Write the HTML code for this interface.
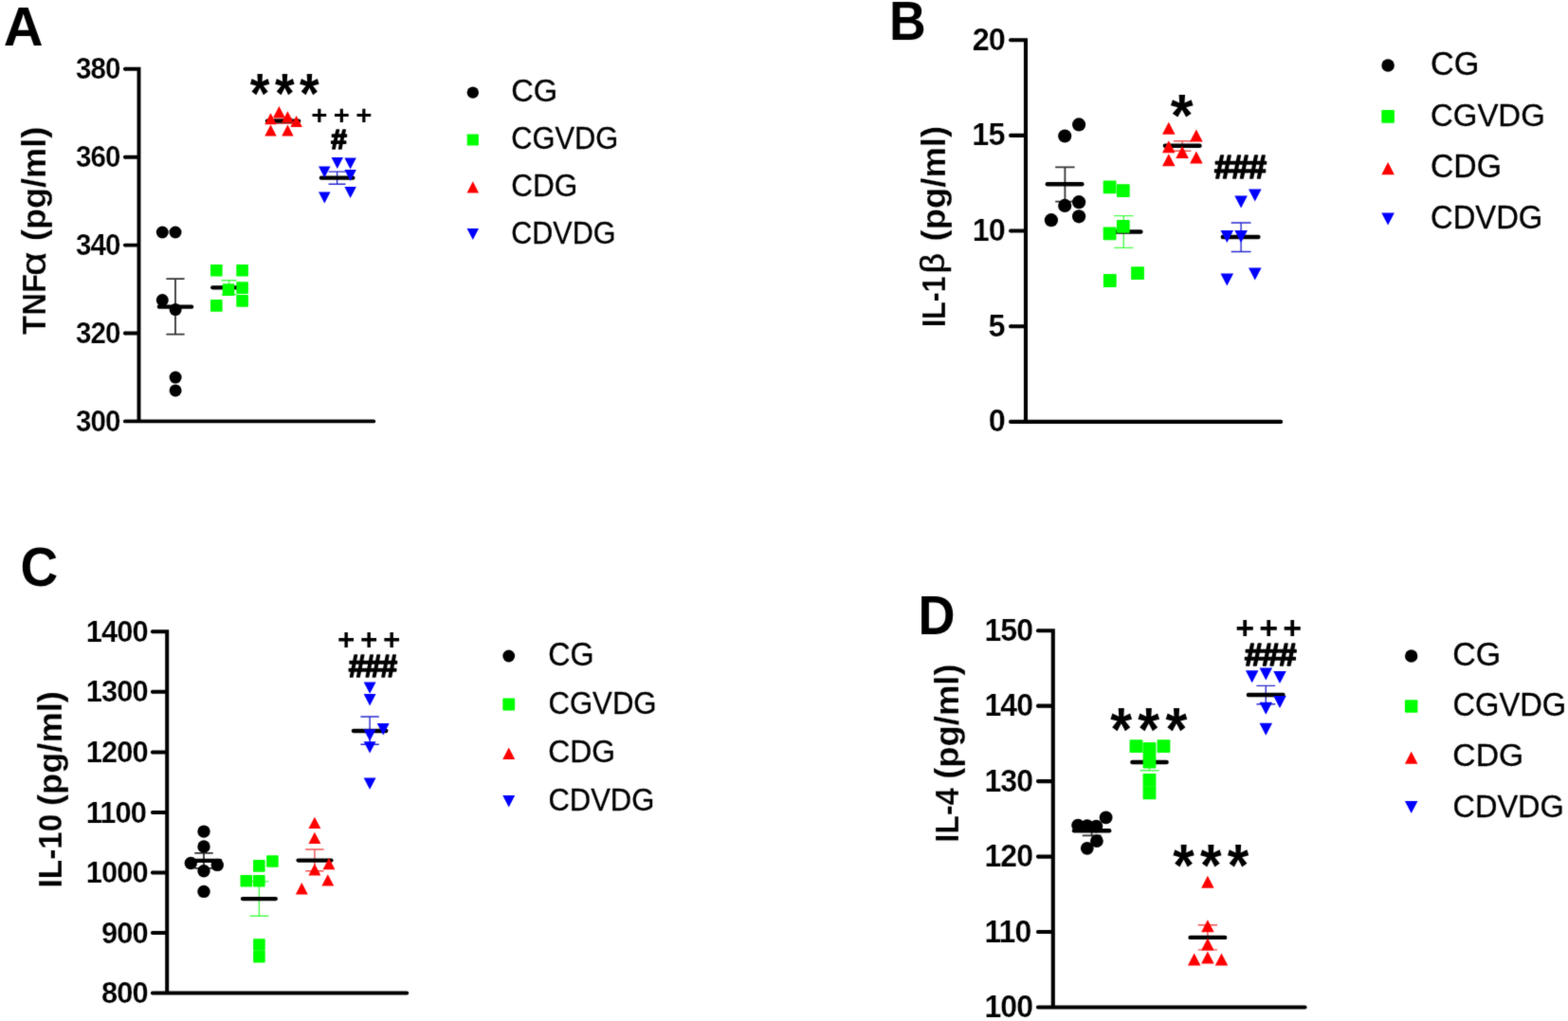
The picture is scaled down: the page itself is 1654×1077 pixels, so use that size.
<!DOCTYPE html>
<html lang="en"><head><meta charset="utf-8"><title>Cytokine levels</title>
<style>
html,body{margin:0;padding:0;background:#fff;}
body{width:1654px;height:1077px;overflow:hidden;}
svg{display:block;font-family:"Liberation Sans",sans-serif;fill:#000;}
</style></head><body>
<svg width="1654" height="1077" viewBox="0 0 1654 1077">
<defs><filter id="soft" x="0" y="0" width="1654" height="1077" filterUnits="userSpaceOnUse" color-interpolation-filters="sRGB"><feConvolveMatrix order="3" kernelMatrix="1 3 1 3 24 3 1 3 1" divisor="40" edgeMode="duplicate" preserveAlpha="false"/></filter></defs>
<rect width="1654" height="1077" fill="#fff"/>
<g style="filter:url(#soft)">
<rect width="1654" height="1077" fill="#fff"/>
<g id="panelA">
<text transform="translate(3.75,47.8) scale(1.0029,1)" font-size="57.75" font-weight="bold">A</text>
<circle cx="131.85" cy="72.8" r="1.95" fill="#000000"/>
<circle cx="131.85" cy="165.7" r="1.95" fill="#000000"/>
<circle cx="131.85" cy="258.6" r="1.95" fill="#000000"/>
<circle cx="131.85" cy="351.5" r="1.95" fill="#000000"/>
<path d="M146.5,70.85V444.4M131.85,72.8H146.5M131.85,165.7H146.5M131.85,258.6H146.5M131.85,351.5H146.5" stroke="#000" stroke-width="3.9" fill="none" stroke-linecap="butt"/>
<line x1="131.85" y1="444.4" x2="394.25" y2="444.4" stroke="#000" stroke-width="3.9" stroke-linecap="round"/>
<text transform="translate(79.94,83.21) scale(0.9355,1)" font-size="31.55" font-weight="bold" letter-spacing="-0.95" stroke="#fff" stroke-width="0.2">380</text>
<text transform="translate(79.94,176.11) scale(0.9355,1)" font-size="31.55" font-weight="bold" letter-spacing="-0.95" stroke="#fff" stroke-width="0.2">360</text>
<text transform="translate(79.94,269.01) scale(0.9355,1)" font-size="31.55" font-weight="bold" letter-spacing="-0.95" stroke="#fff" stroke-width="0.2">340</text>
<text transform="translate(79.94,361.91) scale(0.9355,1)" font-size="31.55" font-weight="bold" letter-spacing="-0.95" stroke="#fff" stroke-width="0.2">320</text>
<text transform="translate(79.94,454.81) scale(0.9355,1)" font-size="31.55" font-weight="bold" letter-spacing="-0.95" stroke="#fff" stroke-width="0.2">300</text>
<text transform="translate(47.8,352.6) rotate(-90)" font-size="35.29" font-weight="bold" stroke="#fff" stroke-width="0.2"><tspan x="-0.33" y="0" textLength="64.13" lengthAdjust="spacingAndGlyphs">TNF</tspan><tspan x="61.92" y="-0.11" font-size="36.35" font-weight="normal" stroke="#000" stroke-width="0.5" textLength="24.95" lengthAdjust="spacingAndGlyphs">α</tspan><tspan x="88.46" y="0" textLength="130.45" lengthAdjust="spacingAndGlyphs"> (pg/ml)</tspan></text>
<path d="M175.4,294.2H194.6M175.4,352.6H194.6M185,294.2V352.6" stroke="#333333" stroke-width="1.8" fill="none"/>
<line x1="167.8" y1="323.7" x2="202.2" y2="323.7" stroke="#000" stroke-width="4.2" stroke-linecap="round"/>
<circle cx="171.3" cy="245" r="6.5" fill="#000000"/>
<circle cx="185" cy="245" r="6.5" fill="#000000"/>
<circle cx="171.3" cy="316.6" r="6.5" fill="#000000"/>
<circle cx="185.1" cy="326.6" r="6.5" fill="#000000"/>
<circle cx="185.1" cy="398.1" r="6.5" fill="#000000"/>
<circle cx="185.1" cy="411.9" r="6.5" fill="#000000"/>
<path d="M233.6,295.8H249.6M233.6,310.8H249.6M241.6,295.8V310.8" stroke="#48ff48" stroke-width="1.4" fill="none"/>
<line x1="224.2" y1="303.3" x2="259" y2="303.3" stroke="#000" stroke-width="4.2" stroke-linecap="round"/>
<rect x="222" y="279" width="12.6" height="12.6" rx="0.8" fill="#00ff00"/>
<rect x="249.3" y="279" width="12.6" height="12.6" rx="0.8" fill="#00ff00"/>
<rect x="234.7" y="299.3" width="12.6" height="12.6" rx="0.8" fill="#00ff00"/>
<rect x="249.3" y="297.3" width="12.6" height="12.6" rx="0.8" fill="#00ff00"/>
<rect x="249.3" y="311.1" width="12.6" height="12.6" rx="0.8" fill="#00ff00"/>
<rect x="222" y="316.1" width="12.6" height="12.6" rx="0.8" fill="#00ff00"/>
<path d="M289,125H308M289,130.4H308M298.5,125V130.4" stroke="#f05050" stroke-width="1.4" fill="none"/>
<line x1="281.8" y1="127.7" x2="315.2" y2="127.7" stroke="#000" stroke-width="4.2" stroke-linecap="round"/>
<polygon points="285.5,119.3 291.75,131.3 279.25,131.3" fill="#ff0000"/>
<polygon points="294.4,112.1 300.65,124.1 288.15,124.1" fill="#ff0000"/>
<polygon points="303.4,117.3 309.65,129.3 297.15,129.3" fill="#ff0000"/>
<polygon points="312.6,122 318.85,134 306.35,134" fill="#ff0000"/>
<polygon points="285.5,131.6 291.75,143.6 279.25,143.6" fill="#ff0000"/>
<polygon points="303.4,131.6 309.65,143.6 297.15,143.6" fill="#ff0000"/>
<path d="M346.6,181.1H364.6M346.6,194.2H364.6M355.6,181.1V194.2" stroke="#2a2ad0" stroke-width="1.4" fill="none"/>
<line x1="338.8" y1="187.7" x2="372.4" y2="187.7" stroke="#000" stroke-width="4.2" stroke-linecap="round"/>
<polygon points="349.55,166.1 362.05,166.1 355.8,178.1" fill="#0000ff"/>
<polygon points="363.35,166.6 375.85,166.6 369.6,178.6" fill="#0000ff"/>
<polygon points="336.05,175.6 348.55,175.6 342.3,187.6" fill="#0000ff"/>
<polygon points="363.35,179 375.85,179 369.6,191" fill="#0000ff"/>
<polygon points="363.35,197.1 375.85,197.1 369.6,209.1" fill="#0000ff"/>
<polygon points="336.05,202.4 348.55,202.4 342.3,214.4" fill="#0000ff"/>
<text transform="translate(263.67,118.6) scale(0.8981,1)" font-size="59.06" font-weight="bold" letter-spacing="6.2">***</text>
<text transform="translate(328.35,131.27) scale(1.0491,1)" font-size="28.04" font-weight="bold" letter-spacing="6.03">+++</text>
<text transform="translate(349.18,156.8) scale(1.0411,1)" font-size="28.68" font-weight="bold" stroke="#000" stroke-width="1.6" stroke-linejoin="round">#</text>
<circle cx="498.8" cy="97.6" r="6.2" fill="#000000"/>
<rect x="492.7" y="141.4" width="12.2" height="12.2" rx="0.8" fill="#00ff00"/>
<polygon points="498.8,191.3 505.05,203.5 492.55,203.5" fill="#ff0000"/>
<polygon points="492.55,240.9 505.05,240.9 498.8,253.1" fill="#0000ff"/>
<text transform="translate(539.22,106.82) scale(1.0045,1)" font-size="32.51" font-weight="normal" stroke="#000" stroke-width="0.3" stroke-linejoin="round">CG</text>
<text transform="translate(539.31,156.82) scale(0.9482,1)" font-size="32.51" font-weight="normal" stroke="#000" stroke-width="0.3" stroke-linejoin="round">CGVDG</text>
<text transform="translate(539.27,206.82) scale(0.9694,1)" font-size="32.51" font-weight="normal" stroke="#000" stroke-width="0.3" stroke-linejoin="round">CDG</text>
<text transform="translate(539.32,256.82) scale(0.9383,1)" font-size="32.51" font-weight="normal" stroke="#000" stroke-width="0.3" stroke-linejoin="round">CDVDG</text>
</g>
<g id="panelB">
<text transform="translate(938.08,42.4) scale(0.9307,1)" font-size="57.6" font-weight="bold">B</text>
<circle cx="1066.05" cy="42.2" r="2.05" fill="#000000"/>
<circle cx="1066.05" cy="142.88" r="2.05" fill="#000000"/>
<circle cx="1066.05" cy="243.55" r="2.05" fill="#000000"/>
<circle cx="1066.05" cy="344.22" r="2.05" fill="#000000"/>
<path d="M1082,40.15V444.9M1066.05,42.2H1082M1066.05,142.88H1082M1066.05,243.55H1082M1066.05,344.22H1082" stroke="#000" stroke-width="4.1" fill="none" stroke-linecap="butt"/>
<line x1="1066.05" y1="444.9" x2="1351.15" y2="444.9" stroke="#000" stroke-width="4.1" stroke-linecap="round"/>
<text transform="translate(1025.76,52.78) scale(0.9759,1)" font-size="33.24" font-weight="bold" letter-spacing="-1" stroke="#fff" stroke-width="0.2">20</text>
<text transform="translate(1025.36,153.46) scale(0.9759,1)" font-size="33.24" font-weight="bold" letter-spacing="-1" stroke="#fff" stroke-width="0.2">15</text>
<text transform="translate(1025.76,254.13) scale(0.9759,1)" font-size="33.24" font-weight="bold" letter-spacing="-1" stroke="#fff" stroke-width="0.2">10</text>
<text transform="translate(1042.39,354.81) scale(0.9759,1)" font-size="33.24" font-weight="bold" letter-spacing="-1" stroke="#fff" stroke-width="0.2">5</text>
<text transform="translate(1042.79,455.48) scale(0.9759,1)" font-size="33.24" font-weight="bold" letter-spacing="-1" stroke="#fff" stroke-width="0.2">0</text>
<text transform="translate(996.6,343) rotate(-90)" font-size="35.29" font-weight="bold" stroke="#fff" stroke-width="0.2"><tspan x="-2.03" y="0" textLength="53.57" lengthAdjust="spacingAndGlyphs">IL-1</tspan><tspan x="54.53" y="-0.78" font-size="35.82" font-weight="normal" stroke="#000" stroke-width="0.5" textLength="21.52" lengthAdjust="spacingAndGlyphs">β</tspan><tspan x="78.45" y="0" textLength="131.68" lengthAdjust="spacingAndGlyphs"> (pg/ml)</tspan></text>
<path d="M1113.2,176.3H1133.6M1113.2,212.6H1133.6M1123.4,176.3V212.6" stroke="#333333" stroke-width="1.8" fill="none"/>
<line x1="1104.8" y1="194.2" x2="1141.4" y2="194.2" stroke="#000" stroke-width="4.4" stroke-linecap="round"/>
<circle cx="1138.1" cy="131.4" r="7.1" fill="#000000"/>
<circle cx="1123.2" cy="143.5" r="7.1" fill="#000000"/>
<circle cx="1138.1" cy="213.2" r="7.1" fill="#000000"/>
<circle cx="1123.2" cy="216.9" r="7.1" fill="#000000"/>
<circle cx="1138.1" cy="228.3" r="7.1" fill="#000000"/>
<circle cx="1108.9" cy="232.2" r="7.1" fill="#000000"/>
<path d="M1175.1,227.6H1195.5M1175.1,261.4H1195.5M1185.3,227.6V261.4" stroke="#48ff48" stroke-width="1.4" fill="none"/>
<line x1="1166.2" y1="244.5" x2="1203.4" y2="244.5" stroke="#000" stroke-width="4.4" stroke-linecap="round"/>
<rect x="1163.7" y="190.5" width="13.8" height="13.8" rx="0.8" fill="#00ff00"/>
<rect x="1177.9" y="194.2" width="13.8" height="13.8" rx="0.8" fill="#00ff00"/>
<rect x="1177.9" y="231.9" width="13.8" height="13.8" rx="0.8" fill="#00ff00"/>
<rect x="1163.7" y="239.5" width="13.8" height="13.8" rx="0.8" fill="#00ff00"/>
<rect x="1163.9" y="289.1" width="13.8" height="13.8" rx="0.8" fill="#00ff00"/>
<rect x="1193.1" y="281.3" width="13.8" height="13.8" rx="0.8" fill="#00ff00"/>
<path d="M1237.9,148.7H1256.3M1237.9,159.2H1256.3M1247.1,148.7V159.2" stroke="#f05050" stroke-width="1.4" fill="none"/>
<line x1="1228.9" y1="153.8" x2="1265.5" y2="153.8" stroke="#000" stroke-width="4.4" stroke-linecap="round"/>
<polygon points="1232.8,128.7 1239.6,141.7 1226,141.7" fill="#ff0000"/>
<polygon points="1261.9,136.6 1268.7,149.6 1255.1,149.6" fill="#ff0000"/>
<polygon points="1232.8,148.3 1239.6,161.3 1226,161.3" fill="#ff0000"/>
<polygon points="1247.1,154.1 1253.9,167.1 1240.3,167.1" fill="#ff0000"/>
<polygon points="1261.9,159.4 1268.7,172.4 1255.1,172.4" fill="#ff0000"/>
<polygon points="1232.8,162.3 1239.6,175.3 1226,175.3" fill="#ff0000"/>
<path d="M1298.7,235H1319.5M1298.7,265.5H1319.5M1309.1,235V265.5" stroke="#2a2ad0" stroke-width="1.4" fill="none"/>
<line x1="1289.8" y1="250" x2="1327.4" y2="250" stroke="#000" stroke-width="4.4" stroke-linecap="round"/>
<polygon points="1317,199.5 1330.6,199.5 1323.8,212.5" fill="#0000ff"/>
<polygon points="1302.3,206.5 1315.9,206.5 1309.1,219.5" fill="#0000ff"/>
<polygon points="1287.5,242.9 1301.1,242.9 1294.3,255.9" fill="#0000ff"/>
<polygon points="1302.3,242.9 1315.9,242.9 1309.1,255.9" fill="#0000ff"/>
<polygon points="1317,282.6 1330.6,282.6 1323.8,295.6" fill="#0000ff"/>
<polygon points="1287.5,288.5 1301.1,288.5 1294.3,301.5" fill="#0000ff"/>
<text transform="translate(1234.65,142.94) scale(0.9675,1)" font-size="63.62" font-weight="bold">*</text>
<text transform="translate(1281.1,188.3) scale(0.9926,1)" font-size="34.41" font-weight="bold" letter-spacing="-1.03" stroke="#000" stroke-width="1.6" stroke-linejoin="round">###</text>
<circle cx="1464.1" cy="69" r="6.8" fill="#000000"/>
<rect x="1457.3" y="116.1" width="13.6" height="13.6" rx="0.8" fill="#00ff00"/>
<polygon points="1464.1,171 1470.9,184.2 1457.3,184.2" fill="#ff0000"/>
<polygon points="1457.3,224.4 1470.9,224.4 1464.1,237.6" fill="#0000ff"/>
<text transform="translate(1508.93,79.3) scale(0.9873,1)" font-size="34.77" font-weight="normal" stroke="#000" stroke-width="0.3" stroke-linejoin="round">CG</text>
<text transform="translate(1509,132.61) scale(0.9793,1)" font-size="33.64" font-weight="normal" stroke="#000" stroke-width="0.3" stroke-linejoin="round">CGVDG</text>
<text transform="translate(1508.96,187.31) scale(0.9882,1)" font-size="34.2" font-weight="normal" stroke="#000" stroke-width="0.3" stroke-linejoin="round">CDG</text>
<text transform="translate(1509.01,240.61) scale(0.9541,1)" font-size="34.35" font-weight="normal" stroke="#000" stroke-width="0.3" stroke-linejoin="round">CDVDG</text>
</g>
<g id="panelC">
<text transform="translate(21.5,618.33) scale(0.9625,1)" font-size="57.1" font-weight="bold">C</text>
<circle cx="160.9" cy="666.3" r="2" fill="#000000"/>
<circle cx="160.9" cy="729.85" r="2" fill="#000000"/>
<circle cx="160.9" cy="793.4" r="2" fill="#000000"/>
<circle cx="160.9" cy="856.95" r="2" fill="#000000"/>
<circle cx="160.9" cy="920.5" r="2" fill="#000000"/>
<circle cx="160.9" cy="984.05" r="2" fill="#000000"/>
<path d="M176.2,664.3V1047.6M160.9,666.3H176.2M160.9,729.85H176.2M160.9,793.4H176.2M160.9,856.95H176.2M160.9,920.5H176.2M160.9,984.05H176.2" stroke="#000" stroke-width="4" fill="none" stroke-linecap="butt"/>
<line x1="160.9" y1="1047.6" x2="429.2" y2="1047.6" stroke="#000" stroke-width="4" stroke-linecap="round"/>
<text transform="translate(90.82,676.9) scale(0.9596,1)" font-size="32.11" font-weight="bold" letter-spacing="-0.96" stroke="#fff" stroke-width="0.2">1400</text>
<text transform="translate(90.82,740.45) scale(0.9596,1)" font-size="32.11" font-weight="bold" letter-spacing="-0.96" stroke="#fff" stroke-width="0.2">1300</text>
<text transform="translate(90.82,804) scale(0.9596,1)" font-size="32.11" font-weight="bold" letter-spacing="-0.96" stroke="#fff" stroke-width="0.2">1200</text>
<text transform="translate(90.82,867.55) scale(0.9596,1)" font-size="32.11" font-weight="bold" letter-spacing="-0.96" stroke="#fff" stroke-width="0.2">1100</text>
<text transform="translate(90.82,931.1) scale(0.9596,1)" font-size="32.11" font-weight="bold" letter-spacing="-0.96" stroke="#fff" stroke-width="0.2">1000</text>
<text transform="translate(107,994.65) scale(0.9596,1)" font-size="32.11" font-weight="bold" letter-spacing="-0.96" stroke="#fff" stroke-width="0.2">900</text>
<text transform="translate(107,1058.2) scale(0.9596,1)" font-size="32.11" font-weight="bold" letter-spacing="-0.96" stroke="#fff" stroke-width="0.2">800</text>
<text transform="translate(64.7,934.2) rotate(-90)" font-size="35.29" font-weight="bold" stroke="#fff" stroke-width="0.2"><tspan x="-2.25" y="0" textLength="77.73" lengthAdjust="spacingAndGlyphs">IL-10</tspan><tspan x="74.12" y="0" textLength="130.9" lengthAdjust="spacingAndGlyphs"> (pg/ml)</tspan></text>
<path d="M205.3,899.8H224.7M205.3,915.8H224.7M215,899.8V915.8" stroke="#333333" stroke-width="1.8" fill="none"/>
<line x1="198.05" y1="907.8" x2="232.15" y2="907.8" stroke="#000" stroke-width="4.3" stroke-linecap="round"/>
<circle cx="215" cy="877.1" r="6.7" fill="#000000"/>
<circle cx="215" cy="893" r="6.7" fill="#000000"/>
<circle cx="201.3" cy="910.5" r="6.7" fill="#000000"/>
<circle cx="229.3" cy="912.4" r="6.7" fill="#000000"/>
<circle cx="215" cy="918.7" r="6.7" fill="#000000"/>
<circle cx="215" cy="940.4" r="6.7" fill="#000000"/>
<path d="M263.5,929.9H283.3M263.5,966.3H283.3M273.4,929.9V966.3" stroke="#48ff48" stroke-width="1.4" fill="none"/>
<line x1="255.95" y1="948.1" x2="290.85" y2="948.1" stroke="#000" stroke-width="4.3" stroke-linecap="round"/>
<rect x="281.1" y="902.2" width="12.6" height="12.6" rx="0.8" fill="#00ff00"/>
<rect x="267" y="907.1" width="12.6" height="12.6" rx="0.8" fill="#00ff00"/>
<rect x="253.5" y="923" width="12.6" height="12.6" rx="0.8" fill="#00ff00"/>
<rect x="267" y="923" width="12.6" height="12.6" rx="0.8" fill="#00ff00"/>
<rect x="267.1" y="990.2" width="12.6" height="12.6" rx="0.8" fill="#00ff00"/>
<rect x="267.1" y="1002.8" width="12.6" height="12.6" rx="0.8" fill="#00ff00"/>
<path d="M322.2,896H341.6M322.2,918.7H341.6M331.9,896V918.7" stroke="#f05050" stroke-width="1.4" fill="none"/>
<line x1="314.55" y1="907.6" x2="349.45" y2="907.6" stroke="#000" stroke-width="4.3" stroke-linecap="round"/>
<polygon points="331.9,861.7 338.35,874.1 325.45,874.1" fill="#ff0000"/>
<polygon points="331.9,877.7 338.35,890.1 325.45,890.1" fill="#ff0000"/>
<polygon points="331.9,911 338.35,923.4 325.45,923.4" fill="#ff0000"/>
<polygon points="347,904.9 353.45,917.3 340.55,917.3" fill="#ff0000"/>
<polygon points="318.3,931.1 324.75,943.5 311.85,943.5" fill="#ff0000"/>
<polygon points="345.8,922.2 352.25,934.6 339.35,934.6" fill="#ff0000"/>
<path d="M380.4,756H399.8M380.4,785.3H399.8M390.1,756V785.3" stroke="#2a2ad0" stroke-width="1.4" fill="none"/>
<line x1="372.85" y1="771" x2="407.35" y2="771" stroke="#000" stroke-width="4.3" stroke-linecap="round"/>
<polygon points="383.65,719.4 396.55,719.4 390.1,731.8" fill="#0000ff"/>
<polygon points="383.65,732.1 396.55,732.1 390.1,744.5" fill="#0000ff"/>
<polygon points="397.75,763 410.65,763 404.2,775.4" fill="#0000ff"/>
<polygon points="383.65,769.3 396.55,769.3 390.1,781.7" fill="#0000ff"/>
<polygon points="383.65,782.2 396.55,782.2 390.1,794.6" fill="#0000ff"/>
<polygon points="383.65,820.4 396.55,820.4 390.1,832.8" fill="#0000ff"/>
<text transform="translate(355.96,684.76) scale(0.9891,1)" font-size="31.76" font-weight="bold" letter-spacing="5.72">+++</text>
<text transform="translate(367.64,713.5) scale(0.9807,1)" font-size="32.5" font-weight="bold" letter-spacing="-0.98" stroke="#000" stroke-width="1.6" stroke-linejoin="round">###</text>
<circle cx="536.7" cy="692" r="6.4" fill="#000000"/>
<rect x="530.3" y="736.6" width="12.8" height="12.8" rx="0.8" fill="#00ff00"/>
<polygon points="536.7,788.5 543.2,800.9 530.2,800.9" fill="#ff0000"/>
<polygon points="530.2,839 543.2,839 536.7,851.4" fill="#0000ff"/>
<text transform="translate(578.34,702.2) scale(0.9304,1)" font-size="34.63" font-weight="normal" stroke="#000" stroke-width="0.3" stroke-linejoin="round">CG</text>
<text transform="translate(578.39,752.61) scale(0.9264,1)" font-size="33.64" font-weight="normal" stroke="#000" stroke-width="0.3" stroke-linejoin="round">CGVDG</text>
<text transform="translate(578.36,804.02) scale(0.9712,1)" font-size="32.79" font-weight="normal" stroke="#000" stroke-width="0.3" stroke-linejoin="round">CDG</text>
<text transform="translate(578.4,855.12) scale(0.9330,1)" font-size="33.22" font-weight="normal" stroke="#000" stroke-width="0.3" stroke-linejoin="round">CDVDG</text>
</g>
<g id="panelD">
<text transform="translate(968.55,669.2) scale(0.9312,1)" font-size="58.04" font-weight="bold">D</text>
<circle cx="1094.95" cy="665.2" r="2.05" fill="#000000"/>
<circle cx="1094.95" cy="744.66" r="2.05" fill="#000000"/>
<circle cx="1094.95" cy="824.12" r="2.05" fill="#000000"/>
<circle cx="1094.95" cy="903.58" r="2.05" fill="#000000"/>
<circle cx="1094.95" cy="983.04" r="2.05" fill="#000000"/>
<path d="M1110.8,663.15V1062.5M1094.95,665.2H1110.8M1094.95,744.66H1110.8M1094.95,824.12H1110.8M1094.95,903.58H1110.8M1094.95,983.04H1110.8" stroke="#000" stroke-width="4.1" fill="none" stroke-linecap="butt"/>
<line x1="1094.95" y1="1062.5" x2="1376.55" y2="1062.5" stroke="#000" stroke-width="4.1" stroke-linecap="round"/>
<text transform="translate(1038.49,675.89) scale(0.9738,1)" font-size="32.96" font-weight="bold" letter-spacing="-0.99" stroke="#fff" stroke-width="0.2">150</text>
<text transform="translate(1038.49,755.35) scale(0.9738,1)" font-size="32.96" font-weight="bold" letter-spacing="-0.99" stroke="#fff" stroke-width="0.2">140</text>
<text transform="translate(1038.49,834.81) scale(0.9738,1)" font-size="32.96" font-weight="bold" letter-spacing="-0.99" stroke="#fff" stroke-width="0.2">130</text>
<text transform="translate(1038.49,914.27) scale(0.9738,1)" font-size="32.96" font-weight="bold" letter-spacing="-0.99" stroke="#fff" stroke-width="0.2">120</text>
<text transform="translate(1038.49,993.73) scale(0.9738,1)" font-size="32.96" font-weight="bold" letter-spacing="-0.99" stroke="#fff" stroke-width="0.2">110</text>
<text transform="translate(1038.49,1073.19) scale(0.9738,1)" font-size="32.96" font-weight="bold" letter-spacing="-0.99" stroke="#fff" stroke-width="0.2">100</text>
<text transform="translate(1010.8,886.6) rotate(-90)" font-size="35.29" font-weight="bold" stroke="#fff" stroke-width="0.2"><tspan x="-2.18" y="0" textLength="57.35" lengthAdjust="spacingAndGlyphs">IL-4</tspan><tspan x="54.66" y="0" textLength="131.57" lengthAdjust="spacingAndGlyphs"> (pg/ml)</tspan></text>
<path d="M1141.7,871H1161.5M1141.7,881.3H1161.5M1151.6,871V881.3" stroke="#333333" stroke-width="1.8" fill="none"/>
<line x1="1133" y1="876.2" x2="1170.2" y2="876.2" stroke="#000" stroke-width="4.4" stroke-linecap="round"/>
<circle cx="1166.6" cy="862.4" r="6.9" fill="#000000"/>
<circle cx="1137.1" cy="870.6" r="6.9" fill="#000000"/>
<circle cx="1146.8" cy="871.1" r="6.9" fill="#000000"/>
<circle cx="1156.4" cy="871.6" r="6.9" fill="#000000"/>
<circle cx="1156.9" cy="887.1" r="6.9" fill="#000000"/>
<circle cx="1146.8" cy="894.8" r="6.9" fill="#000000"/>
<path d="M1202.6,804H1222.4M1202.6,812.7H1222.4M1212.5,804V812.7" stroke="#48ff48" stroke-width="1.4" fill="none"/>
<line x1="1194.4" y1="804" x2="1230.6" y2="804" stroke="#000" stroke-width="4.4" stroke-linecap="round"/>
<rect x="1191.6" y="780.2" width="13.8" height="13.8" rx="0.8" fill="#00ff00"/>
<rect x="1220.6" y="780.2" width="13.8" height="13.8" rx="0.8" fill="#00ff00"/>
<rect x="1205.6" y="783.1" width="13.8" height="13.8" rx="0.8" fill="#00ff00"/>
<rect x="1205.6" y="796.6" width="13.8" height="13.8" rx="0.8" fill="#00ff00"/>
<rect x="1205.6" y="816" width="13.8" height="13.8" rx="0.8" fill="#00ff00"/>
<rect x="1205.6" y="829.5" width="13.8" height="13.8" rx="0.8" fill="#00ff00"/>
<path d="M1263.7,975.8H1284.1M1263.7,1001.9H1284.1M1273.9,975.8V1001.9" stroke="#f05050" stroke-width="1.4" fill="none"/>
<line x1="1255.6" y1="988.9" x2="1292.2" y2="988.9" stroke="#000" stroke-width="4.4" stroke-linecap="round"/>
<polygon points="1273.9,923.8 1280.65,936.8 1267.15,936.8" fill="#ff0000"/>
<polygon points="1273.9,970.3 1280.65,983.3 1267.15,983.3" fill="#ff0000"/>
<polygon points="1273.9,989.6 1280.65,1002.6 1267.15,1002.6" fill="#ff0000"/>
<polygon points="1273.9,1003.5 1280.65,1016.5 1267.15,1016.5" fill="#ff0000"/>
<polygon points="1259.7,1005.5 1266.45,1018.5 1252.95,1018.5" fill="#ff0000"/>
<polygon points="1288.5,1005.5 1295.25,1018.5 1281.75,1018.5" fill="#ff0000"/>
<path d="M1325.4,723.4H1345.2M1325.4,742.7H1345.2M1335.3,723.4V742.7" stroke="#2a2ad0" stroke-width="1.4" fill="none"/>
<line x1="1316.9" y1="733" x2="1353.5" y2="733" stroke="#000" stroke-width="4.4" stroke-linecap="round"/>
<polygon points="1313.95,707.3 1327.45,707.3 1320.7,720.3" fill="#0000ff"/>
<polygon points="1328.55,704.4 1342.05,704.4 1335.3,717.4" fill="#0000ff"/>
<polygon points="1343.25,708 1356.75,708 1350,721" fill="#0000ff"/>
<polygon points="1343.25,734 1356.75,734 1350,747" fill="#0000ff"/>
<polygon points="1328.55,740.8 1342.05,740.8 1335.3,753.8" fill="#0000ff"/>
<polygon points="1328.55,762.8 1342.05,762.8 1335.3,775.8" fill="#0000ff"/>
<text transform="translate(1171.35,791.9) scale(0.9115,1)" font-size="64.43" font-weight="bold" letter-spacing="6.77">***</text>
<text transform="translate(1237.36,934.07) scale(0.9193,1)" font-size="63.09" font-weight="bold" letter-spacing="6.62">***</text>
<text transform="translate(1303.15,674.34) scale(1.0446,1)" font-size="32.75" font-weight="bold" letter-spacing="4.91">+++</text>
<text transform="translate(1313.01,702) scale(1.0293,1)" font-size="32.94" font-weight="bold" letter-spacing="-0.99" stroke="#000" stroke-width="1.6" stroke-linejoin="round">###</text>
<circle cx="1488.7" cy="692" r="6.7" fill="#000000"/>
<rect x="1481.95" y="738.35" width="13.5" height="13.5" rx="0.8" fill="#00ff00"/>
<polygon points="1488.7,792.75 1495.45,805.85 1481.95,805.85" fill="#ff0000"/>
<polygon points="1481.95,844.95 1495.45,844.95 1488.7,858.05" fill="#0000ff"/>
<text transform="translate(1532.35,701.51) scale(0.9848,1)" font-size="34.49" font-weight="normal" stroke="#000" stroke-width="0.3" stroke-linejoin="round">CG</text>
<text transform="translate(1532.42,755.31) scale(0.9548,1)" font-size="34.2" font-weight="normal" stroke="#000" stroke-width="0.3" stroke-linejoin="round">CGVDG</text>
<text transform="translate(1532.36,808.22) scale(1.0148,1)" font-size="33.22" font-weight="normal" stroke="#000" stroke-width="0.3" stroke-linejoin="round">CDG</text>
<text transform="translate(1532.42,861.62) scale(0.9714,1)" font-size="33.5" font-weight="normal" stroke="#000" stroke-width="0.3" stroke-linejoin="round">CDVDG</text>
</g>
</g>
</svg>
</body></html>
